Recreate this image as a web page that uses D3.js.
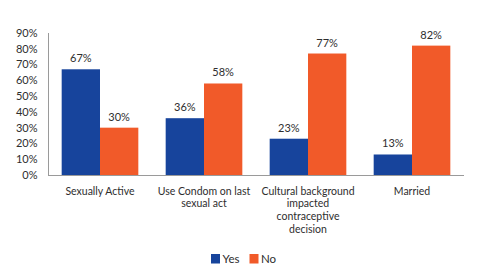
<!DOCTYPE html>
<html><head><meta charset="utf-8">
<script src="https://cdn.jsdelivr.net/npm/d3@7"></script>
<style>body{margin:0;background:#fff}svg{display:block}text{font-family:Lato,"Open Sans",sans-serif;fill:#2e2e2e}</style>
</head><body><svg id="c" width="500" height="280"></svg>
<script>
const categories = [["Sexually Active"],["Use Condom on last","sexual act"],["Cultural background","impacted","contraceptive","decision"],["Married"]];
const seriesNames = ["Yes","No"];
const yesValues = [67,36,23,13];
const noValues = [30,58,77,82];
const yTicks = [0,10,20,30,40,50,60,70,80,90];
const colors = ["#17449c","#f15a29"];

const svg = d3.select("#c");
const x0 = d3.scaleBand().domain(d3.range(categories.length)).range([48,464]).paddingInner(0.263).paddingOuter(0.1315);
const x1 = d3.scaleBand().domain(seriesNames).range([0,x0.bandwidth()]);
const y = d3.scaleLinear().domain([0,90]).range([175,33]);

svg.append("g").selectAll("text").data(yTicks).join("text")
  .attr("x",37.5).attr("y",d=>y(d)).attr("dy","0.35em").attr("text-anchor","end")
  .attr("font-size",11).text(d=>d+"%");

const data = categories.map((c,i)=>({i, vals:[yesValues[i],noValues[i]]}));
const g = svg.append("g").selectAll("g").data(data).join("g").attr("transform",d=>`translate(${x0(d.i)},0)`);
g.selectAll("rect").data(d=>d.vals.map((v,k)=>({k,v}))).join("rect")
  .attr("x",d=>x1(seriesNames[d.k])).attr("width",x1.bandwidth())
  .attr("y",d=>y(d.v)).attr("height",d=>y(0)-y(d.v)).attr("fill",d=>colors[d.k]);
g.selectAll("text.v").data(d=>d.vals.map((v,k)=>({k,v}))).join("text").attr("class","v")
  .attr("x",d=>x1(seriesNames[d.k])+x1.bandwidth()/2).attr("y",d=>y(d.v)-7)
  .attr("text-anchor","middle").attr("font-size",11).text(d=>d.v+"%");

svg.append("line").attr("x1",48.5).attr("x2",48.5).attr("y1",y(90)).attr("y2",y(0)+1).attr("stroke","#9a9a9a").attr("stroke-width",1);
svg.append("line").attr("x1",48).attr("x2",464).attr("y1",y(0)+0.5).attr("y2",y(0)+0.5).attr("stroke","#9a9a9a").attr("stroke-width",1.2);

const lines = [];
categories.forEach((c,i)=>c.forEach((t,j)=>lines.push({i,j,t})));
svg.append("g").selectAll("text").data(lines).join("text")
  .attr("text-anchor","middle").attr("font-size",10.5)
  .attr("x",d=>x0(d.i)+x0.bandwidth()/2).attr("y",d=>194.5+d.j*12.7).text(d=>d.t);

const lg = svg.append("g").selectAll("g").data(seriesNames).join("g")
  .attr("transform",(d,i)=>`translate(${[211,249.5][i]},254)`);
lg.append("rect").attr("width",9).attr("height",9.5).attr("fill",(d,i)=>colors[i]);
lg.append("text").attr("x",11.5).attr("y",5).attr("dy","0.35em").attr("font-size",11.5).text(d=>d);
</script></body></html>
